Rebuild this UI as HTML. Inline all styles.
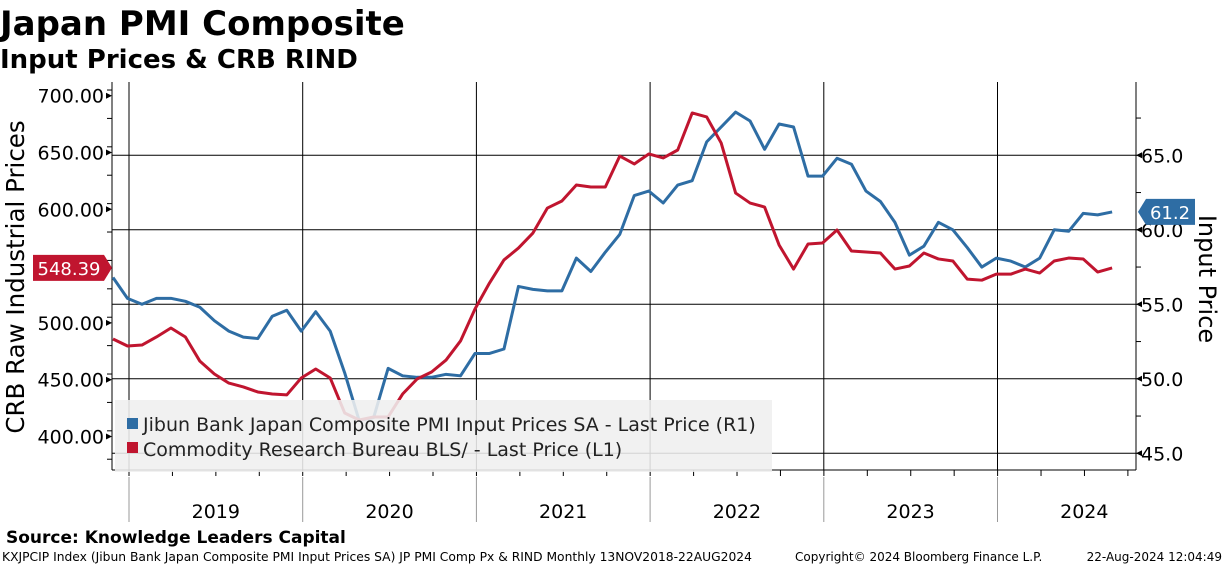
<!DOCTYPE html>
<html><head><meta charset="utf-8"><style>
body{margin:0;background:#fff;width:1224px;height:566px;overflow:hidden;font-family:"DejaVu Sans",Verdana,sans-serif}
svg text{font-family:"DejaVu Sans",Verdana,sans-serif}
</style></head><body>
<svg id="c" width="1224" height="566" xmlns="http://www.w3.org/2000/svg">
<text x="0" y="35" font-size="34" font-weight="bold">Japan PMI Composite</text>
<text x="0" y="68" font-size="26" font-weight="bold">Input Prices &amp; CRB RIND</text>
<text x="6" y="543" font-size="17" font-weight="bold">Source: Knowledge Leaders Capital</text>
<text x="2" y="561" font-size="12.3">KXJPCIP Index (Jibun Bank Japan Composite PMI Input Prices SA) JP PMI Comp Px &amp; RIND  Monthly 13NOV2018-22AUG2024</text>
<text x="795" y="561" font-size="12">Copyright© 2024 Bloomberg Finance L.P.</text>
<text x="1222" y="561" font-size="12" text-anchor="end">22-Aug-2024 12:04:49</text>
<g id="grid"></g><g id="axes"></g><g id="series"></g><g id="legend"></g><g id="labels"></g>
</svg>
<script>
const years=["2019","2020","2021","2022","2023","2024"];
const leftTicks=[400,450,500,550,600,650,700];
const rightTicks=[45,50,55,60,65];
const blueVals=[56.8,55.4,55.0,55.4,55.4,55.2,54.8,53.9,53.2,52.8,52.7,54.2,54.6,53.2,54.5,53.2,50.4,47.2,47.4,50.7,50.2,50.1,50.1,50.3,50.2,51.7,51.7,52.0,56.2,56.0,55.9,55.9,58.1,57.2,58.5,59.7,62.3,62.6,61.8,63.0,63.3,65.9,66.9,67.9,67.3,65.4,67.1,66.9,63.6,63.6,64.8,64.4,62.6,61.9,60.5,58.3,58.9,60.5,60.0,58.8,57.5,58.1,57.9,57.5,58.1,60.0,59.9,61.1,61.0,61.2];
const redVals=[485.8,479.7,480.5,487.6,495.5,487.6,466.3,455.0,447.0,443.6,439.2,437.4,436.6,451.5,459.4,451.5,420.7,414.5,417.2,417.2,437.4,450.6,456.8,467.3,484.1,512.2,535.1,555.4,565.9,579.1,601.1,607.3,621.4,619.6,619.6,646.9,639.9,648.7,645.2,652.2,684.8,681.3,658.4,614.3,605.5,602.0,568.6,547.4,569.5,570.3,581.8,563.3,562.4,561.5,547.4,550.1,561.5,556.3,554.5,538.5,537.6,542.9,542.9,547.4,543.9,554.5,557.1,556.3,544.8,548.39];
const NS="http://www.w3.org/2000/svg";
const L=112,R=1136,T=82,B=470;
const x=i=>113+i*14.48;
const yL=v=>95.7+(700-v)*1.136;
const yR=v=>155.3+(65-v)*14.9;
const yearX=k=>129+k*173.7;
function mk(tag,attrs,parent,txt){const e=document.createElementNS(NS,tag);for(const k in attrs)e.setAttribute(k,attrs[k]);if(txt!==undefined)e.textContent=txt;document.getElementById(parent).appendChild(e);return e;}
rightTicks.forEach(v=>{
 const l=mk('line',{x1:L,x2:R,y1:yR(v),y2:yR(v),stroke:'#000','stroke-width':1},'grid');
 
 
 const t=mk('text',{x:R+5,y:yR(v)+7,'font-size':19},'axes',v.toFixed(1));
 
 
 mk('path',{d:`M${R} ${yR(v)} l6 -3 v6z`,fill:'#000'},'axes');
});
for(let v=45;v<=67.5;v+=2.5){mk('line',{x1:R,x2:R+5,y1:yR(v),y2:yR(v),stroke:'#000'},'axes');}
years.forEach((yr,k)=>{
 const xx=yearX(k);
 const l=mk('line',{x1:xx,x2:xx,y1:T,y2:B,stroke:'#000','stroke-width':1},'grid');
 
 
 mk('line',{x1:xx,x2:xx,y1:477,y2:522,stroke:'#999'},'axes');
 const t=mk('text',{x:xx+86.8,y:518,'font-size':19,'text-anchor':'middle'},'axes',yr);
 
 
});
for(let q=-1;q<24;q++){const xx=129+q*43.43;if(xx<L||xx>R)continue;mk('line',{x1:xx,x2:xx,y1:B,y2:B+6,stroke:'#000'},'axes');}
mk('line',{x1:L,x2:L,y1:T,y2:B,stroke:'#000'},'axes');
mk('line',{x1:R,x2:R,y1:T,y2:B,stroke:'#000'},'axes');
mk('line',{x1:L,x2:R,y1:B,y2:B,stroke:'#000'},'axes');
for(let v=380;v<=710;v+=25){mk('line',{x1:L-5,x2:L,y1:yL(v),y2:yL(v),stroke:'#000'},'axes');}
leftTicks.forEach(v=>{
 if(v===550)return;
 const t=mk('text',{x:L-8,y:yL(v)+7,'font-size':19,'text-anchor':'end'},'axes',v.toFixed(2));
 
 
 mk('path',{d:`M${L} ${yL(v)} l-6 -3 v6z`,fill:'#000'},'axes');
});
const lt=mk('text',{transform:'translate(24,277) rotate(-90)','font-size':24.5,'text-anchor':'middle'},'axes','CRB Raw Industrial Prices');


const rt=mk('text',{transform:'translate(1199,279) rotate(90)','font-size':24,'text-anchor':'middle'},'axes','Input Price');


const bp=mk('polyline',{points:blueVals.map((v,i)=>x(i)+','+yR(v)).join(' '),fill:'none',stroke:'#2e6da4','stroke-width':3,'stroke-linejoin':'round'},'series');


const rp=mk('polyline',{points:redVals.map((v,i)=>x(i)+','+yL(v)).join(' '),fill:'none',stroke:'#c0152f','stroke-width':3,'stroke-linejoin':'round'},'series');


const lg=mk('rect',{x:115,y:400,width:657,height:72,fill:'#efefef','fill-opacity':0.88},'legend');


mk('rect',{x:127,y:418,width:11,height:11,fill:'#2e6da4'},'legend');
const l1=mk('text',{x:143,y:431,'font-size':19,fill:'#222'},'legend','Jibun Bank Japan Composite PMI Input Prices SA - Last Price (R1)');


mk('rect',{x:127,y:442,width:11,height:11,fill:'#c0152f'},'legend');
const l2=mk('text',{x:143,y:456,'font-size':19,fill:'#222'},'legend','Commodity Research Bureau BLS/ - Last Price (L1)');


const ry=yL(redVals[redVals.length-1]);
mk('path',{d:`M33 ${ry-13} H104 L112 ${ry} L104 ${ry+13} H33z`,fill:'#c0152f'},'labels');
const rl=mk('text',{x:69,y:ry+7,'font-size':18,fill:'#fff','text-anchor':'middle'},'labels',redVals[redVals.length-1].toFixed(2));


const by=yR(blueVals[blueVals.length-1]);
mk('path',{d:`M1138 ${by} L1146 ${by-13} H1195 V${by+13} H1146z`,fill:'#2e6da4'},'labels');
const bl=mk('text',{x:1170,y:by+7,'font-size':18,fill:'#fff','text-anchor':'middle'},'labels',blueVals[blueVals.length-1].toFixed(1));


</script>
</body></html>
